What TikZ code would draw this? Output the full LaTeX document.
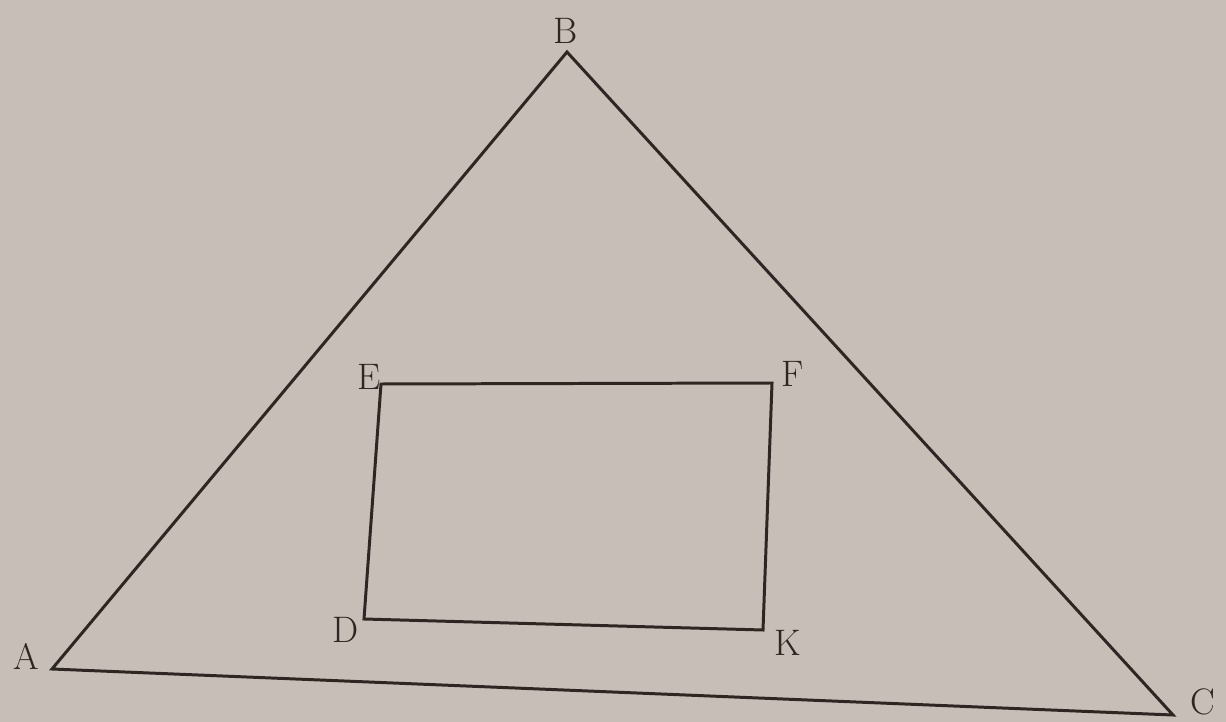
\documentclass[tikz,border=0pt]{standalone}
\definecolor{paper}{RGB}{198,190,183}
\definecolor{ink}{RGB}{45,38,34}
\begin{document}
\begin{tikzpicture}[x=0.02cm,y=-0.02cm,
  edge/.style={draw=ink,line width=1.7pt,line join=miter},
  lbl/.style={text=ink,font=\fontsize{21}{25}\selectfont,inner sep=0pt}]
\fill[paper] (0,0) rectangle (1226,722);
\useasboundingbox (0,0) rectangle (1226,722);
\coordinate (A) at (52,669);
\coordinate (B) at (567,52);
\coordinate (C) at (1173,715);
\coordinate (E) at (381,384);
\coordinate (F) at (772,383);
\coordinate (K) at (763,630);
\coordinate (D) at (364,619);
\draw[edge] (A) -- (B) -- (C) -- cycle;
\draw[edge] (E) -- (F) -- (K) -- (D) -- cycle;
\node[lbl] (la) at (26,656) {A};
\node[lbl] (lb) at (566,31) {B};
\node[lbl] (lc) at (1203,702) {C};
\node[lbl] (le) at (369,377) {E};
\node[lbl] (lf) at (793,374) {F};
\node[lbl] (ld) at (346,630) {D};
\node[lbl] (lk) at (788,643) {K};
\end{tikzpicture}
\end{document}
